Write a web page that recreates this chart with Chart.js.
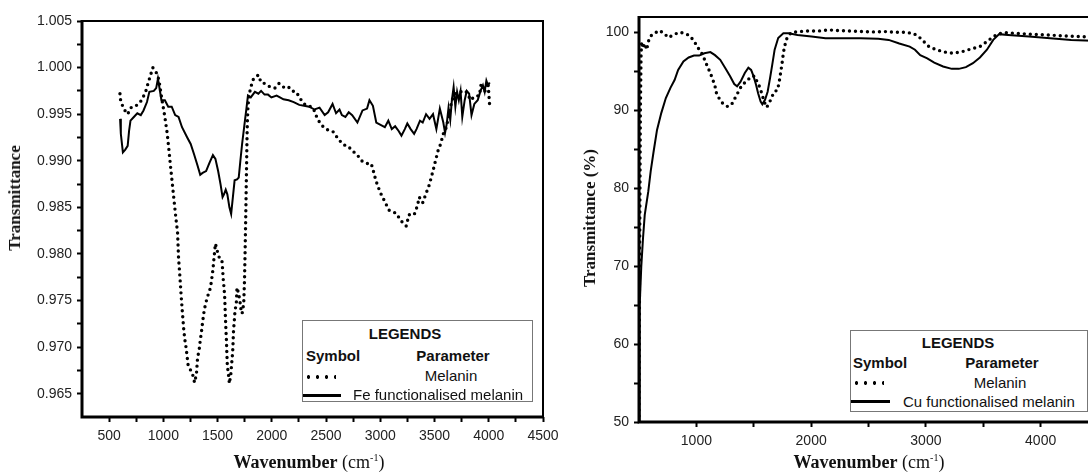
<!DOCTYPE html>
<html>
<head>
<meta charset="utf-8">
<script src="https://cdn.jsdelivr.net/npm/chart.js@4"></script>
<style>
  body { margin: 0; width: 1088px; height: 473px; overflow: hidden; position: relative; background: #fff; }
  .box { position: absolute; }
  .ytitle { position: absolute; transform: translate(-50%, -50%) rotate(-90deg); white-space: nowrap;
            font: bold 17px "Liberation Serif", "Times New Roman", serif; color: #111; }
  .xtitle { position: absolute; transform: translateX(-50%); white-space: nowrap;
            font: 18px "Liberation Serif", "Times New Roman", serif; color: #111; }
  .xtitle sup { font-size: 10px; }
  .legend { position: absolute; border: 1px solid #777; background: #fff;
            font: 15px "Liberation Sans", Arial, sans-serif; color: #111; }
  .legend div { position: absolute; white-space: nowrap; height: 18px; line-height: 18px; }
  .legend .b { font-weight: bold; }
  .legend .c { transform: translateX(-50%); }
  .dots { height: 4px !important; background: radial-gradient(circle, #000 1.6px, transparent 2px) repeat-x;
          background-size: 9px 4px; }
  .solid { height: 3px !important; background: #000; }
</style>
</head>
<body>
<div class="box" style="left:0;top:0;width:565px;height:473px"><canvas id="feChart"></canvas></div>
<div class="box" style="left:560px;top:0;width:560px;height:473px"><canvas id="cuChart"></canvas></div>

<div class="ytitle" style="left:15px;top:198px">Transmittance</div>
<div class="ytitle" style="left:590px;top:218px">Transmittance (%)</div>
<div class="xtitle" style="left:309px;top:452px"><b>Wavenumber</b> (cm<sup>-1</sup>)</div>
<div class="xtitle" style="left:869px;top:452px"><b>Wavenumber</b> (cm<sup>-1</sup>)</div>

<div class="legend" style="left:302px;top:320px;width:229px;height:80px">
  <div class="b c" style="left:102px;top:4px">LEGENDS</div>
  <div class="b" style="left:3px;top:26px">Symbol</div>
  <div class="b c" style="left:150px;top:26px">Parameter</div>
  <div class="dots" style="left:1px;top:54px;width:32px"></div>
  <div class="c" style="left:148px;top:46px">Melanin</div>
  <div class="solid" style="left:0px;top:73px;width:38px"></div>
  <div style="left:50px;top:65px">Fe functionalised melanin</div>
</div>
<div class="legend" style="left:850px;top:330px;width:236px;height:80px">
  <div class="b c" style="left:107px;top:3px">LEGENDS</div>
  <div class="b" style="left:2px;top:23px">Symbol</div>
  <div class="b c" style="left:151px;top:23px">Parameter</div>
  <div class="dots" style="left:1px;top:50px;width:32px"></div>
  <div class="c" style="left:149px;top:43px">Melanin</div>
  <div class="solid" style="left:0px;top:69px;width:39px"></div>
  <div style="left:52px;top:62px">Cu functionalised melanin</div>
</div>

<script>
// Left panel: melanin vs Fe functionalised melanin
var feMelaninX = [600, 606, 633, 671, 700, 740, 801, 839, 861, 903, 944, 960, 988, 1014, 1036, 1052, 1067, 1083, 1099, 1115,
  1131, 1140, 1153, 1163, 1175, 1188, 1197, 1210, 1220, 1229, 1267, 1288, 1305, 1315, 1331, 1340, 1353, 1362, 1375, 1388,
  1407, 1435, 1448, 1457, 1464, 1480, 1495, 1521, 1540, 1546, 1552, 1559, 1565, 1568, 1571, 1574, 1577, 1581, 1584, 1587,
  1590, 1600, 1609, 1622, 1628, 1635, 1641, 1644, 1647, 1654, 1660, 1673, 1679, 1695, 1710, 1717, 1726, 1736, 1742, 1745,
  1748, 1750, 1752, 1754, 1756, 1758, 1760, 1762, 1764, 1766, 1768, 1770, 1772, 1775, 1780, 1790, 1806, 1831, 1876, 1901,
  1933, 1971, 2028, 2066, 2107, 2148, 2186, 2224, 2266, 2297, 2345, 2383, 2414, 2446, 2487, 2535, 2567, 2614, 2662, 2700,
  2741, 2789, 2836, 2884, 2916, 2932, 2947, 2973, 3004, 3042, 3081, 3122, 3153, 3185, 3216, 3239, 3264, 3312, 3343, 3359,
  3391, 3422, 3448, 3470, 3492, 3511, 3533, 3556, 3581, 3603, 3622, 3645, 3660, 3692, 3740, 3787, 3835, 3867, 3914, 3930,
  3962, 3993, 4009, 4031];
var feMelanin = [0.9972, 0.9965, 0.9956, 0.9950, 0.9957, 0.9958, 0.9965, 0.9975, 0.9984, 1.0000, 0.9993, 0.9986, 0.9965, 0.9947, 0.9929, 0.9911, 0.9893, 0.9875, 0.9857, 0.9839,
  0.9823, 0.9796, 0.9775, 0.9757, 0.9738, 0.9719, 0.9709, 0.9699, 0.9689, 0.9680, 0.9672, 0.9662, 0.9671, 0.9688, 0.9698, 0.9707, 0.9718, 0.9727, 0.9738, 0.9746,
  0.9754, 0.9764, 0.9775, 0.9783, 0.9792, 0.9811, 0.9804, 0.9794, 0.9793, 0.9784, 0.9773, 0.9764, 0.9755, 0.9746, 0.9736, 0.9727, 0.9718, 0.9709, 0.9698, 0.9689,
  0.9680, 0.9671, 0.9661, 0.9671, 0.9680, 0.9689, 0.9699, 0.9709, 0.9718, 0.9728, 0.9738, 0.9748, 0.9764, 0.9757, 0.9746, 0.9739, 0.9736, 0.9743, 0.9750, 0.9761,
  0.9771, 0.9782, 0.9793, 0.9804, 0.9818, 0.9830, 0.9843, 0.9857, 0.9872, 0.9886, 0.9900, 0.9915, 0.9929, 0.9943, 0.9958, 0.9970, 0.9979, 0.9988, 0.9992, 0.9984,
  0.9983, 0.9980, 0.9978, 0.9983, 0.9979, 0.9980, 0.9975, 0.9974, 0.9966, 0.9961, 0.9959, 0.9956, 0.9947, 0.9940, 0.9935, 0.9932, 0.9931, 0.9923, 0.9917, 0.9916,
  0.9911, 0.9906, 0.9899, 0.9897, 0.9897, 0.9891, 0.9884, 0.9874, 0.9865, 0.9856, 0.9847, 0.9845, 0.9843, 0.9836, 0.9833, 0.9830, 0.9842, 0.9842, 0.9852, 0.9861,
  0.9855, 0.9865, 0.9873, 0.9882, 0.9892, 0.9901, 0.9911, 0.9918, 0.9929, 0.9934, 0.9943, 0.9956, 0.9965, 0.9972, 0.9974, 0.9975, 0.9965, 0.9969, 0.9970, 0.9983,
  0.9974, 0.9984, 0.9958, 0.9958];

var feFuncX = [601, 608, 627, 649, 671, 684, 697, 728, 760, 792, 817, 849, 871, 912, 934, 950, 966, 982, 1014, 1045,
  1077, 1109, 1140, 1172, 1220, 1252, 1283, 1315, 1340, 1362, 1394, 1426, 1457, 1480, 1505, 1527, 1546, 1559, 1575, 1590,
  1609, 1625, 1641, 1657, 1679, 1695, 1710, 1726, 1749, 1768, 1780, 1806, 1844, 1876, 1901, 1933, 1965, 1996, 2044, 2075,
  2107, 2155, 2202, 2253, 2297, 2345, 2393, 2440, 2487, 2519, 2560, 2592, 2624, 2646, 2678, 2709, 2741, 2789, 2836, 2878,
  2900, 2932, 2963, 3011, 3042, 3074, 3106, 3137, 3169, 3195, 3226, 3249, 3280, 3312, 3334, 3366, 3391, 3422, 3454, 3486,
  3517, 3549, 3581, 3597, 3613, 3629, 3645, 3660, 3676, 3692, 3708, 3724, 3740, 3756, 3778, 3797, 3819, 3841, 3867, 3898,
  3924, 3946, 3962, 3978, 3993, 4009];
var feFunc = [0.9945, 0.9929, 0.9909, 0.9912, 0.9916, 0.9932, 0.9943, 0.9947, 0.9951, 0.9949, 0.9954, 0.9963, 0.9974, 0.9975, 0.9978, 0.9988, 0.9977, 0.9965, 0.9965, 0.9958,
  0.9958, 0.9949, 0.9947, 0.9936, 0.9925, 0.9918, 0.9907, 0.9895, 0.9885, 0.9887, 0.9889, 0.9898, 0.9906, 0.9902, 0.9889, 0.9875, 0.9861, 0.9864, 0.9869, 0.9864,
  0.9850, 0.9843, 0.9861, 0.9879, 0.9880, 0.9882, 0.9900, 0.9918, 0.9940, 0.9958, 0.9970, 0.9968, 0.9974, 0.9972, 0.9975, 0.9971, 0.9971, 0.9968, 0.9970, 0.9968,
  0.9966, 0.9965, 0.9963, 0.9960, 0.9959, 0.9958, 0.9955, 0.9957, 0.9949, 0.9952, 0.9961, 0.9951, 0.9955, 0.9949, 0.9947, 0.9952, 0.9949, 0.9941, 0.9954, 0.9956,
  0.9965, 0.9959, 0.9941, 0.9938, 0.9936, 0.9943, 0.9934, 0.9937, 0.9932, 0.9927, 0.9934, 0.9940, 0.9934, 0.9929, 0.9934, 0.9943, 0.9941, 0.9950, 0.9945, 0.9950,
  0.9934, 0.9956, 0.9941, 0.9930, 0.9940, 0.9957, 0.9944, 0.9965, 0.9979, 0.9958, 0.9974, 0.9965, 0.9975, 0.9947, 0.9965, 0.9975, 0.9972, 0.9949, 0.9961, 0.9965,
  0.9975, 0.9981, 0.9974, 0.9986, 0.9981, 0.9984];

// Right panel: melanin vs Cu functionalised melanin (%)
var cuMelaninX = [500, 505, 512, 518, 523, 532, 552, 567, 581, 610, 639, 668, 712, 755, 799, 851, 901, 945, 982, 1017,
  1055, 1084, 1113, 1139, 1163, 1177, 1206, 1235, 1273, 1308, 1337, 1366, 1395, 1439, 1482, 1511, 1526, 1549, 1570, 1590,
  1613, 1648, 1677, 1706, 1720, 1734, 1749, 1758, 1768, 1789, 1826, 1896, 1972, 2064, 2150, 2248, 2355, 2462, 2553, 2645,
  2722, 2813, 2890, 2936, 2982, 3027, 3089, 3165, 3241, 3318, 3394, 3471, 3532, 3578, 3624, 3685, 3776, 3899, 4052, 4205,
  4327, 4450];
var cuMelanin = [50, 70, 90, 97, 98.85, 98.0, 98.6, 97.8, 98.85, 99.7, 99.9, 100.26, 100.0, 99.36, 99.7, 100.04, 99.9, 99.57, 98.85, 97.99,
  97.14, 96.07, 95.09, 94.15, 93.08, 92.09, 91.37, 90.81, 90.5, 90.8, 91.6, 92.4, 93.2, 93.8, 94.4, 94.4, 93.8, 93.1, 92.2, 91.15,
  90.4, 91.37, 92.4, 92.6, 93.5, 94.8, 96.3, 97.35, 98.2, 99.27, 100.0, 100.13, 100.2, 100.2, 100.34, 100.26, 100.2, 100.13, 100.08, 100.13,
  100.04, 100.04, 99.9, 99.5, 98.85, 98.2, 97.8, 97.5, 97.35, 97.56, 97.9, 98.2, 98.85, 99.36, 99.8, 100.0, 99.9, 99.8, 99.7, 99.57,
  99.5, 99.4];

var cuFuncX = [500, 504, 508, 520, 535, 550, 581, 602, 627, 657, 694, 734, 774, 810, 841, 887, 933, 979, 1024, 1070,
  1122, 1162, 1208, 1254, 1294, 1330, 1355, 1385, 1422, 1453, 1477, 1498, 1520, 1538, 1560, 1575, 1599, 1621, 1642, 1661,
  1682, 1713, 1758, 1804, 1881, 2003, 2125, 2278, 2431, 2584, 2676, 2768, 2859, 2905, 2951, 3012, 3073, 3150, 3226, 3287,
  3349, 3410, 3471, 3532, 3587, 3639, 3716, 3899, 4083, 4266, 4450];
var cuFunc = [50, 58, 65, 70, 73.6, 76.6, 79.6, 82.2, 84.7, 87.5, 89.66, 91.6, 92.9, 93.9, 95.2, 96.3, 96.8, 97.05, 97.05, 97.35,
  97.5, 97.1, 96.5, 95.4, 94.4, 93.4, 93.1, 93.7, 94.8, 95.5, 95.2, 94.4, 93.3, 92.2, 91.15, 90.8, 91.4, 92.4, 94.15, 95.85,
  97.8, 99.3, 99.9, 99.9, 99.7, 99.5, 99.27, 99.27, 99.27, 99.2, 99.06, 98.6, 98.2, 97.8, 97.1, 96.7, 96.15, 95.64, 95.34, 95.34,
  95.56, 96.07, 96.8, 97.8, 99.06, 99.8, 99.7, 99.5, 99.27, 99.06, 98.95];

function pairs(xs, ys) {
  return xs.map(function (x, i) { return { x: x, y: ys[i] }; });
}

function isMult(v, step) { return Math.abs(v / step - Math.round(v / step)) < 1e-6; }

// box around the plot area, heavier on the left and bottom
var frame = {
  id: 'frame',
  afterDraw: function (chart) {
    var ctx = chart.ctx, a = chart.chartArea;
    ctx.save();
    ctx.setLineDash([]);
    ctx.strokeStyle = '#000';
    ctx.lineWidth = 2;
    ctx.strokeRect(a.left, a.top, a.right - a.left, a.bottom - a.top);
    ctx.lineWidth = 3;
    ctx.beginPath();
    ctx.moveTo(a.left, a.top - 1);
    ctx.lineTo(a.left, a.bottom);
    ctx.lineTo(a.right + 1, a.bottom);
    ctx.stroke();
    ctx.restore();
  }
};

var tickFont = { family: '"Liberation Sans", Arial, sans-serif', size: 14 };

// outward tick marks drawn by the scale itself; hidden at the axis corner
function tickGrid(cornerValue) {
  return {
    display: true, drawOnChartArea: false, drawTicks: true, tickLength: 5, tickWidth: 2,
    tickColor: function (c) {
      return (c.tick && Math.abs(c.tick.value - cornerValue) < 1e-9) ? 'rgba(0,0,0,0)' : '#000';
    }
  };
}

function dotted(data) {
  return { data: data, borderColor: '#000', borderWidth: 3.4, borderDash: [0, 6], borderCapStyle: 'round',
           pointRadius: 0, tension: 0, fill: false };
}
function solid(data) {
  return { data: data, borderColor: '#000', borderWidth: 2, pointRadius: 0, tension: 0, fill: false };
}

new Chart(document.getElementById('feChart'), {
  type: 'line',
  data: { datasets: [dotted(pairs(feMelaninX, feMelanin)), solid(pairs(feFuncX, feFunc))] },
  plugins: [frame],
  options: {
    responsive: true, maintainAspectRatio: false, animation: false,
    layout: { padding: { top: 21, right: 22, left: 0, bottom: 0 } },
    plugins: { legend: { display: false }, tooltip: { enabled: false } },
    scales: {
      x: {
        type: 'linear', min: 250, max: 4500,
        grid: tickGrid(250), border: { display: false },
        ticks: { stepSize: 250, autoSkip: false, maxRotation: 0, padding: 6, color: '#222', font: tickFont,
          callback: function (v) { return isMult(v, 500) ? String(v) : ''; } },
        afterFit: function (s) { s.height = 56; }
      },
      y: {
        min: 0.9625, max: 1.005,
        grid: tickGrid(0.9625), border: { display: false },
        ticks: { stepSize: 0.0025, autoSkip: false, padding: 5, color: '#222', font: tickFont,
          callback: function (v) { return isMult(v, 0.005) ? v.toFixed(3) : ''; } },
        afterFit: function (s) { s.width = 82; }
      }
    }
  }
});

new Chart(document.getElementById('cuChart'), {
  type: 'line',
  data: { datasets: [dotted(pairs(cuMelaninX, cuMelanin)), solid(pairs(cuFuncX, cuFunc))] },
  plugins: [frame],
  options: {
    responsive: true, maintainAspectRatio: false, animation: false,
    layout: { padding: { top: 17, right: 22, left: 0, bottom: 0 } },
    plugins: { legend: { display: false }, tooltip: { enabled: false } },
    scales: {
      x: {
        type: 'linear', min: 500, max: 4500,
        grid: tickGrid(500), border: { display: false },
        ticks: { stepSize: 500, autoSkip: false, maxRotation: 0, padding: 6, color: '#222', font: tickFont,
          callback: function (v) { return isMult(v, 1000) ? String(v) : ''; } },
        afterFit: function (s) { s.height = 51; }
      },
      y: {
        min: 50, max: 102,
        grid: tickGrid(-1), border: { display: false },
        ticks: { stepSize: 5, includeBounds: false, autoSkip: false, padding: 5, color: '#222', font: tickFont,
          callback: function (v) { return isMult(v, 10) ? String(v) : ''; } },
        afterFit: function (s) { s.width = 79; }
      }
    }
  }
});
</script>
</body>
</html>
